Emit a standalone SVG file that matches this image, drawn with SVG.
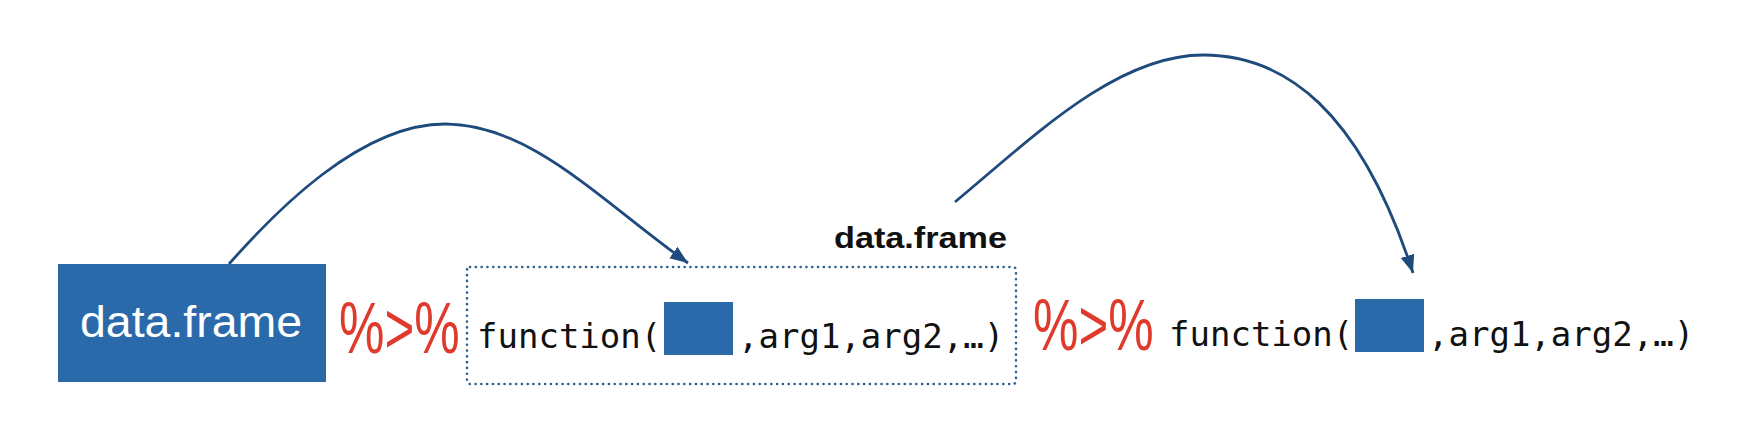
<svg xmlns="http://www.w3.org/2000/svg" width="1742" height="436" viewBox="0 0 1742 436">
  <style>
    .mono { font-family: "DejaVu Sans Mono", "Liberation Mono", monospace; font-size: 34px; fill: #111111; }
    .pipe { font-family: "Liberation Sans", Arial, sans-serif; font-size: 72px; fill: #e03a2c; }
    .sq { fill: #2b6aaa; }
    .arc { fill: none; stroke: #1f4b7c; stroke-width: 2.8; }
  </style>
  <defs>
    <marker id="arrow" markerUnits="userSpaceOnUse" markerWidth="20" markerHeight="16" refX="18" refY="7" orient="auto">
      <path d="M0,0 L18,7 L0,14 Z" fill="#1f4b7c"/>
    </marker>
  </defs>

  <g id="node-dataframe">
    <rect x="58" y="264" width="268" height="118" fill="#2b6aaa"/>
    <text x="191" y="337" text-anchor="middle" font-family="'Liberation Sans', Arial, sans-serif" font-size="44" fill="#ffffff" textLength="222" lengthAdjust="spacingAndGlyphs">data.frame</text>
  </g>

  <g id="pipe1">
    <text class="pipe" transform="translate(339,353) scale(0.71,1)">%&gt;%</text>
  </g>

  <g id="node-call1">
    <rect x="467" y="267" width="549" height="117" rx="3" fill="none" stroke="#2f5f92" stroke-width="2.6" stroke-dasharray="0.1 5.7" stroke-linecap="round"/>
    <text class="mono" x="477" y="348">function(</text>
    <rect class="sq" x="664" y="302" width="69" height="53"/>
    <text class="mono" x="738" y="348">,arg1,arg2,…)</text>
  </g>

  <g id="label-result">
    <text x="834" y="248" font-family="'Liberation Sans', Arial, sans-serif" font-size="30" font-weight="bold" fill="#111111" textLength="173" lengthAdjust="spacingAndGlyphs">data.frame</text>
  </g>

  <g id="pipe2">
    <text class="pipe" transform="translate(1033,350) scale(0.71,1)">%&gt;%</text>
  </g>

  <g id="node-call2">
    <text class="mono" x="1169" y="346">function(</text>
    <rect class="sq" x="1355" y="299" width="69" height="53"/>
    <text class="mono" x="1428" y="346">,arg1,arg2,…)</text>
  </g>

  <g id="connectors">
    <path class="arc" d="M229,264 C275,212 360,124 445,124 C530,124 600,200 688,263" marker-end="url(#arrow)"/>
    <path class="arc" d="M955,202 C1030,140 1115,55 1203,55 C1285,55 1360,110 1413,273" marker-end="url(#arrow)"/>
  </g>
</svg>
